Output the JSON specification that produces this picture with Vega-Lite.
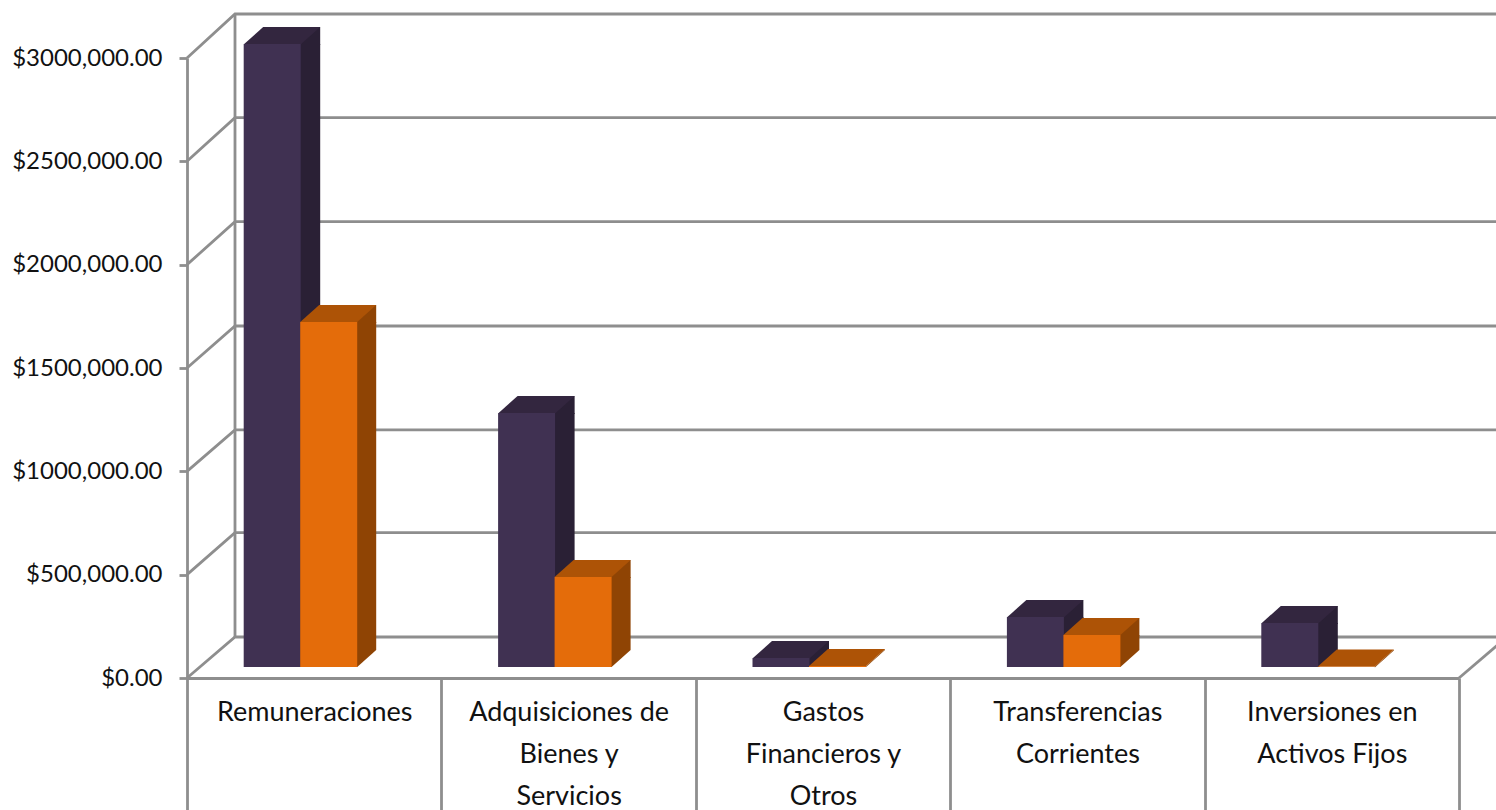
{
"$schema":"https://vega.github.io/schema/vega-lite/v6.json",
"autosize":"none",
"padding":{"left":187,"top":58,"right":37,"bottom":132},
"width":1272,
"height":620,
"background":"white",
"config":{"view":{"stroke":null},"font":"Lato"},
"datasets":{
"bars":[
{"cat":"Remuneraciones","series":"A","value":3014000},
{"cat":"Adquisiciones de Bienes y Servicios","series":"A","value":1229000},
{"cat":"Gastos Financieros y Otros","series":"A","value":43000},
{"cat":"Transferencias Corrientes","series":"A","value":242000},
{"cat":"Inversiones en Activos Fijos","series":"A","value":213000},
{"cat":"Remuneraciones","series":"B","value":1669000},
{"cat":"Adquisiciones de Bienes y Servicios","series":"B","value":435000},
{"cat":"Gastos Financieros y Otros","series":"B","value":5000},
{"cat":"Transferencias Corrientes","series":"B","value":155000},
{"cat":"Inversiones en Activos Fijos","series":"B","value":3000}
],
"ticks":[{"tick":0},{"tick":500000},{"tick":1000000},{"tick":1500000},{"tick":2000000},{"tick":2500000},{"tick":3000000}]
},
"data":{"name":"bars"},
"encoding":{
"x":{"field":"cat","type":"nominal","sort":null,
"scale":{"domain":["Remuneraciones","Adquisiciones de Bienes y Servicios","Gastos Financieros y Otros","Transferencias Corrientes","Inversiones en Activos Fijos"],"paddingInner":0,"paddingOuter":0},
"axis":{"title":null,"labelAngle":0,"tickBand":"extent","tickSize":132,"tickWidth":2.8,"tickColor":"#8E8E8E","domainColor":"#8E8E8E","domainWidth":3,"labelPadding":-98,"labelBaseline":"middle","labelFont":"Lato","labelFontSize":27,"labelColor":"#111111","labelLineHeight":42,"labelLimit":0,"labelOverlap":false,"grid":false,
"labelExpr":"{'Remuneraciones':['Remuneraciones'],'Adquisiciones de Bienes y Servicios':['Adquisiciones de','Bienes y','Servicios'],'Gastos Financieros y Otros':['Gastos','Financieros y','Otros'],'Transferencias Corrientes':['Transferencias','Corrientes'],'Inversiones en Activos Fijos':['Inversiones en','Activos Fijos']}[datum.label]"}},
"y":{"field":"value","type":"quantitative","stack":null,
"scale":{"domain":[0,3000000],"nice":false,"zero":true},
"axis":{"title":null,"values":[0,500000,1000000,1500000,2000000,2500000,3000000],"grid":false,"tickSize":8,"tickWidth":2.8,"tickColor":"#8E8E8E","domainColor":"#8E8E8E","domainWidth":2.8,"labelPadding":17,"labelFont":"Lato","labelFontSize":24,"labelColor":"#111111",
"labelExpr":"datum.value==0?'$0.00':'$'+format(datum.value/1000,'d')+',000.00'"}}
},
"layer":[
{"data":{"name":"ticks"},"mark":{"type":"point","size":4,"stroke":"#8E8E8E","strokeWidth":2.8,"opacity":1,"fill":null},"encoding":{"x":{"datum":"Remuneraciones","bandPosition":0},"y":{"field":"tick","type":"quantitative"},
"shape":{"field":"tick","type":"nominal","legend":null,"scale":{"domain":[0,500000,1000000,1500000,2000000,2500000,3000000],"range":["M0,0L48,-41L1320,-41","M0,0L48,-42L1320,-42","M0,0L48,-41.5L1320,-41.5","M0,0L48,-42L1320,-42","M0,0L48,-43L1320,-43","M0,0L48,-43.7L1320,-43.7","M0,0L48,-44L1320,-44"]}}}},
{"data":{"values":[{"tick":0}]},"mark":{"type":"point","shape":"M0,0L48,-41","size":4,"stroke":"#8E8E8E","strokeWidth":2.8,"opacity":1,"fill":null},"encoding":{"x":{"datum":"Inversiones en Activos Fijos","bandPosition":1},"y":{"field":"tick","type":"quantitative"}}},
{"data":{"values":[{"top":3000000,"bottom":0}]},"mark":{"type":"rule","color":"#8E8E8E","strokeWidth":2.8,"xOffset":48,"yOffset":-44,"y2Offset":-41},"encoding":{"x":{"datum":"Remuneraciones","bandPosition":0},"y":{"field":"top","type":"quantitative"},"y2":{"field":"bottom"}}},

{"transform":[{"filter":"datum.series=='A' && datum.value>=82000"}],"mark":{"type":"rect","fill":"#2A2035","width":21,"xOffset":-4.5,"yOffset":-11,"y2Offset":-28},"encoding":{"y2":{"datum":0}}},
{"transform":[{"filter":"datum.series=='A' && datum.value>=82000"}],"mark":{"type":"point","shape":"M-2,0L17,-17L19,-17L19,1L-2,1Z","size":4,"filled":true,"fill":"#2A2035","stroke":null,"opacity":1,"xOffset":-13,"yOffset":-11}},
{"transform":[{"filter":"datum.series=='A' && datum.value>=82000"}],"mark":{"type":"point","shape":"M-2,0L0,0L19,-17L-2,-17Z","size":4,"filled":true,"fill":"#2A2035","stroke":null,"opacity":1,"xOffset":-13,"yOffset":-11},"encoding":{"y":{"datum":0}}},
{"transform":[{"filter":"datum.series=='A' && datum.value<82000"}],"mark":{"type":"point","shape":"M-2,0L17,-17L19,-17L19,-8L0,9L-2,9Z","size":4,"filled":true,"fill":"#2A2035","stroke":null,"opacity":1,"xOffset":-13,"yOffset":-11}},
{"transform":[{"filter":"datum.series=='A'"}],"mark":{"type":"rect","fill":"#403152","width":57,"xOffset":-42,"yOffset":-11,"y2Offset":-11},"encoding":{"y2":{"datum":0}}},
{"transform":[{"filter":"datum.series=='A'"}],"mark":{"type":"point","shape":"M0,0L19,-17L76,-17L57,0Z","size":4,"filled":true,"fill":"#33263F","stroke":null,"opacity":1,"xOffset":-70,"yOffset":-11}},

{"transform":[{"filter":"datum.series=='B' && datum.value>=82000"}],"mark":{"type":"rect","fill":"#8F4404","width":21,"xOffset":51.5,"yOffset":-11,"y2Offset":-28},"encoding":{"y2":{"datum":0}}},
{"transform":[{"filter":"datum.series=='B' && datum.value>=82000"}],"mark":{"type":"point","shape":"M-2,0L17,-17L19,-17L19,1L-2,1Z","size":4,"filled":true,"fill":"#8F4404","stroke":null,"opacity":1,"xOffset":43,"yOffset":-11}},
{"transform":[{"filter":"datum.series=='B' && datum.value>=82000"}],"mark":{"type":"point","shape":"M-2,0L0,0L19,-17L-2,-17Z","size":4,"filled":true,"fill":"#8F4404","stroke":null,"opacity":1,"xOffset":43,"yOffset":-11},"encoding":{"y":{"datum":0}}},
{"transform":[{"filter":"datum.series=='B' && datum.value<82000"}],"mark":{"type":"point","shape":"M0,0L19,-17L19,-16L0,1Z","size":4,"filled":true,"fill":"#8F4404","stroke":null,"opacity":1,"xOffset":43,"yOffset":-11}},
{"transform":[{"filter":"datum.series=='B'"}],"mark":{"type":"rect","fill":"#E46C0A","width":57,"xOffset":14.5,"yOffset":-11,"y2Offset":-11},"encoding":{"y2":{"datum":0}}},
{"transform":[{"filter":"datum.series=='B'"}],"mark":{"type":"point","shape":"M0,0L19,-17L76,-17L57,0Z","size":4,"filled":true,"fill":"#AD5306","stroke":null,"opacity":1,"xOffset":-14,"yOffset":-11}}
]
}
